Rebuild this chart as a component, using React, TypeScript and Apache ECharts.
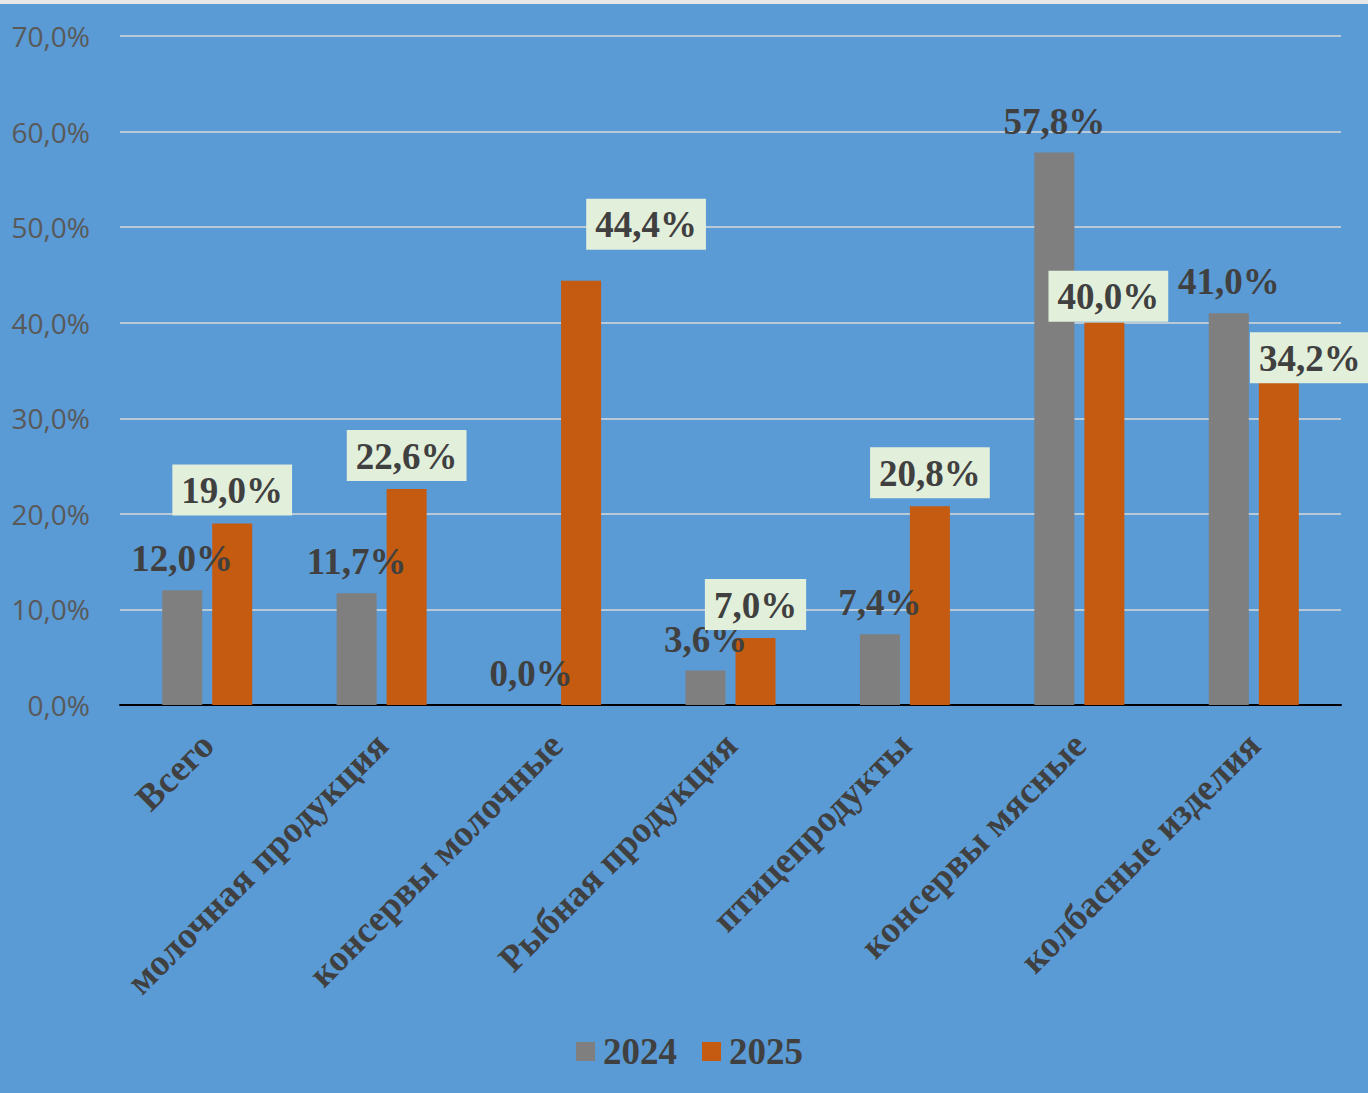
import React, { useEffect, useRef } from "react";
import * as echarts from "echarts";

const categories = [
  "Всего",
  "молочная продукция",
  "консервы молочные",
  "Рыбная продукция",
  "птицепродукты",
  "консервы мясные",
  "колбасные изделия",
];
const values2024 = [12.0, 11.7, 0.0, 3.6, 7.4, 57.8, 41.0];
const values2025 = [19.0, 22.6, 44.4, 7.0, 20.8, 40.0, 34.2];
const seriesNames = ["2024", "2025"];
// manual label nudges (as in the source chart) for 2025 labels
const labelOffsets2025: [number, number][] = [
  [0, 0],
  [0, 0],
  [65, -23],
  [0, 0],
  [0, 0],
  [4, 7],
  [31, 13],
];

const fmt = (v: number) => v.toFixed(1).replace(".", ",") + "%";
const SERIF = "'Liberation Serif', 'DejaVu Serif', serif";

export default function App() {
  const ref = useRef<HTMLDivElement>(null);
  useEffect(() => {
    if (!ref.current) return;
    const chart = echarts.init(ref.current, null, { renderer: "svg" });
    chart.setOption({
      animation: false,
      backgroundColor: "#5A9AD5",
      grid: { left: 120, right: 27, top: 32, bottom: 388, containLabel: false },
      legend: {
        data: seriesNames,
        bottom: 23,
        left: 576,
        padding: 0,
        itemWidth: 19,
        itemHeight: 19,
        itemGap: 25,
        icon: "rect",
        textStyle: {
          fontFamily: SERIF,
          fontWeight: "bold",
          fontSize: 37,
          color: "#404040",
          padding: [0, 0, 0, 3],
        },
      },
      xAxis: {
        type: "category",
        data: categories,
        axisLine: { lineStyle: { color: "#000000", width: 2 } },
        axisTick: { show: false },
        axisLabel: {
          interval: 0,
          rotate: 45,
          margin: 34,
          fontFamily: SERIF,
          fontWeight: "bold",
          fontSize: 37,
          color: "#404040",
        },
      },
      yAxis: {
        type: "value",
        min: 0,
        max: 70,
        interval: 10,
        axisLine: { show: false },
        axisTick: { show: false },
        splitLine: { lineStyle: { color: "#D9D9D9", width: 1.5 } },
        axisLabel: {
          margin: 30,
          fontFamily: "'Open Sans', 'Noto Sans', sans-serif",
          fontSize: 28,
          color: "#595959",
          formatter: (v: number) => fmt(v),
        },
      },
      series: [
        {
          name: seriesNames[0],
          type: "bar",
          data: values2024,
          barWidth: 40,
          barGap: "25%",
          itemStyle: { color: "#7F7F7F" },
          label: {
            show: true,
            position: "top",
            distance: 13,
            fontFamily: SERIF,
            fontWeight: "bold",
            fontSize: 37,
            color: "#404040",
            formatter: (p: any) => fmt(p.value),
          },
        },
        {
          name: seriesNames[1],
          type: "bar",
          data: values2025.map((v, i) => ({
            value: v,
            label: { offset: labelOffsets2025[i] },
          })),
          barWidth: 40,
          barGap: "25%",
          itemStyle: { color: "#C55A11" },
          label: {
            show: true,
            position: "top",
            distance: 8,
            fontFamily: SERIF,
            fontWeight: "bold",
            fontSize: 37,
            lineHeight: 38,
            color: "#404040",
            backgroundColor: "#E2EFDA",
            padding: [7, 9, 6, 9],
            formatter: (p: any) => fmt(p.value),
          },
        },
      ],
    });
    return () => chart.dispose();
  }, []);

  return (
    <div
      style={{
        position: "fixed",
        left: 0,
        top: 0,
        width: 1368,
        height: 1093,
        background: "#E7E8E8",
      }}
    >
      <div
        ref={ref}
        style={{ position: "absolute", left: 0, top: 4, width: 1368, height: 1089 }}
      />
    </div>
  );
}
